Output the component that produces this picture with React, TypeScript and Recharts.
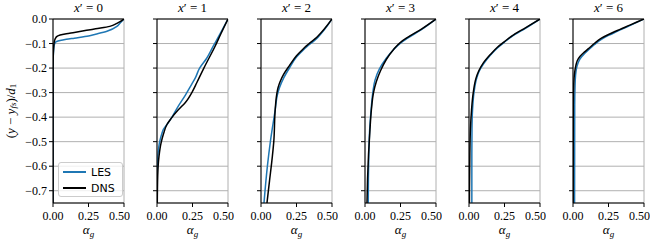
import { LineChart, Line, XAxis, YAxis, CartesianGrid, Legend, Label, ReferenceLine } from 'recharts'

// ─── Data ─────────────────────────────────────────────────────────────────
// each profile point is [alpha_g, (y - y_fs)/d1]
type Pt = [number, number]

const panels = ['0', '1', '2', '3', '4', '6']
const seriesNames = ['LES', 'DNS']
const xTicks = [0, 0.25, 0.5]
const yTicks = [0, -0.1, -0.2, -0.3, -0.4, -0.5, -0.6, -0.7]

const les0: Pt[] = [[0.5, 0], [0.47, -0.018], [0.45, -0.03], [0.38, -0.05], [0.3, -0.062], [0.25, -0.069], [0.15, -0.078], [0.094, -0.083], [0.05, -0.088], [0.026, -0.092], [0.015, -0.097], [0.009, -0.106], [0.004, -0.13], [0.001, -0.17], [0, -0.22], [0, -0.75]]
const dns0: Pt[] = [[0.5, 0], [0.45, -0.018], [0.4, -0.03], [0.3, -0.04], [0.25, -0.045], [0.15, -0.055], [0.094, -0.06], [0.05, -0.065], [0.026, -0.072], [0.018, -0.078], [0.012, -0.086], [0.007, -0.1], [0.004, -0.12], [0.001, -0.17], [0, -0.22], [0, -0.75]]

const les1: Pt[] = [[0.5, 0], [0.44, -0.065], [0.395, -0.112], [0.35, -0.16], [0.3, -0.2], [0.27, -0.24], [0.244, -0.266], [0.2, -0.31], [0.15, -0.355], [0.1, -0.405], [0.07, -0.43], [0.045, -0.45], [0.035, -0.466], [0.019, -0.5], [0.007, -0.55], [0.002, -0.6], [0, -0.63], [0, -0.75]]
const dns1: Pt[] = [[0.5, 0], [0.45, -0.06], [0.41, -0.11], [0.33, -0.2], [0.28, -0.26], [0.25, -0.295], [0.2, -0.34], [0.15, -0.37], [0.1, -0.405], [0.07, -0.43], [0.047, -0.466], [0.028, -0.507], [0.014, -0.56], [0.005, -0.64], [0.002, -0.75]]

const les2: Pt[] = [[0.5, 0], [0.4, -0.075], [0.3, -0.125], [0.25, -0.155], [0.2, -0.2], [0.16, -0.24], [0.13, -0.28], [0.115, -0.31], [0.1, -0.37], [0.066, -0.5], [0.045, -0.6], [0.021, -0.75]]
const dns2: Pt[] = [[0.5, 0], [0.4, -0.07], [0.3, -0.12], [0.25, -0.15], [0.2, -0.19], [0.16, -0.225], [0.135, -0.255], [0.12, -0.28], [0.11, -0.31], [0.1, -0.37], [0.09, -0.5], [0.08, -0.56], [0.06, -0.66], [0.042, -0.75]]

const les3: Pt[] = [[0.5, 0], [0.4, -0.042], [0.3, -0.078], [0.25, -0.098], [0.2, -0.125], [0.15, -0.16], [0.1, -0.205], [0.07, -0.25], [0.055, -0.3], [0.043, -0.37], [0.033, -0.45], [0.027, -0.55], [0.024, -0.65], [0.023, -0.75]]
const dns3: Pt[] = [[0.5, 0], [0.4, -0.04], [0.3, -0.075], [0.25, -0.095], [0.2, -0.125], [0.15, -0.165], [0.11, -0.21], [0.08, -0.255], [0.06, -0.3], [0.045, -0.37], [0.035, -0.45], [0.025, -0.55], [0.018, -0.65], [0.014, -0.75]]

const les4: Pt[] = [[0.5, 0], [0.4, -0.037], [0.3, -0.072], [0.25, -0.094], [0.2, -0.118], [0.15, -0.148], [0.1, -0.185], [0.07, -0.215], [0.05, -0.25], [0.035, -0.3], [0.025, -0.37], [0.021, -0.45], [0.02, -0.55], [0.02, -0.75]]
const dns4: Pt[] = [[0.5, 0], [0.4, -0.035], [0.3, -0.07], [0.25, -0.092], [0.2, -0.115], [0.15, -0.145], [0.1, -0.18], [0.07, -0.21], [0.05, -0.24], [0.03, -0.3], [0.018, -0.37], [0.01, -0.45], [0.006, -0.55], [0.003, -0.75]]

const les6: Pt[] = [[0.5, 0], [0.4, -0.027], [0.3, -0.053], [0.25, -0.067], [0.2, -0.083], [0.15, -0.105], [0.12, -0.12], [0.08, -0.142], [0.05, -0.162], [0.035, -0.18], [0.025, -0.2], [0.018, -0.23], [0.014, -0.28], [0.012, -0.35], [0.011, -0.75]]
const dns6: Pt[] = [[0.5, 0], [0.4, -0.025], [0.3, -0.05], [0.25, -0.063], [0.2, -0.078], [0.15, -0.1], [0.12, -0.115], [0.08, -0.135], [0.05, -0.152], [0.03, -0.17], [0.02, -0.19], [0.01, -0.225], [0.005, -0.27], [0.002, -0.35], [0.001, -0.75]]

const lesProfiles = [les0, les1, les2, les3, les4, les6]
const dnsProfiles = [dns0, dns1, dns2, dns3, dns4, dns6]

// ─── Styling ──────────────────────────────────────────────────────────────
const SERIF = 'Liberation Serif, DejaVu Serif, serif'
const SANS = 'DejaVu Sans, sans-serif'
const LES_COLOR = '#1f77b4'
const DNS_COLOR = '#000000'
const GRID = '#b0b0b0'

const CHART_W = 130
const CHART_H = 240
const PANEL_STEP = 104

const serifStyle = { fontFamily: SERIF }
const toPoints = (pts: Pt[]) => pts.map(([a, y]) => ({ a, y }))
const fmtY = (v: number) => (v === 0 ? '0.0' : '\u2212' + Math.abs(v).toFixed(1))

// panel title, drawn above the plot area of the bottom axis' viewBox
function renderTitle(n: string) {
  return (props: any) => {
    const vb = props.viewBox || {}
    return (
      <text x={vb.x + vb.width / 2} y={12} textAnchor="middle" style={serifStyle} fontSize={13} fill="#000">
        <tspan fontStyle="italic">x</tspan>
        <tspan>{'\u2032 = ' + n}</tspan>
      </text>
    )
  }
}

function renderXLabel(props: any) {
  const vb = props.viewBox || {}
  return (
    <text x={vb.x + vb.width / 2} y={vb.y + 31} textAnchor="middle" style={serifStyle} fontSize={13} fill="#000">
      <tspan fontStyle="italic">{'\u03b1'}</tspan>
      <tspan fontStyle="italic" fontSize={9} dy={3}>g</tspan>
    </text>
  )
}

function renderYLabel(props: any) {
  const vb = props.viewBox || {}
  const cx = vb.x - 3
  const cy = vb.y + vb.height / 2
  return (
    <text
      x={cx}
      y={cy}
      transform={`rotate(-90, ${cx}, ${cy})`}
      textAnchor="middle"
      dominantBaseline="central"
      style={serifStyle}
      fontSize={13}
      fill="#000"
    >
      <tspan>(</tspan>
      <tspan fontStyle="italic">y</tspan>
      <tspan>{' \u2212 '}</tspan>
      <tspan fontStyle="italic">y</tspan>
      <tspan fontStyle="italic" fontSize={9} dy={3}>fs</tspan>
      <tspan dy={-3}>)/</tspan>
      <tspan fontStyle="italic">d</tspan>
      <tspan fontSize={9} dy={3}>1</tspan>
    </text>
  )
}

function LegendBox({ payload }: any) {
  const items = [...(payload || [])].sort(
    (p: any, q: any) => seriesNames.indexOf(p.value) - seriesNames.indexOf(q.value),
  )
  return (
    <div
      style={{
        width: 65,
        height: 35,
        boxSizing: 'border-box',
        border: '1px solid #cccccc',
        borderRadius: 3,
        background: 'rgba(255,255,255,0.8)',
        fontFamily: SANS,
        fontSize: 11,
        color: '#000',
        paddingTop: 1,
      }}
    >
      {items.map((entry: any) => (
        <div key={entry.value} style={{ display: 'flex', alignItems: 'center', height: 16 }}>
          <span style={{ display: 'inline-block', width: 23, height: 2, background: entry.color, marginLeft: 4, marginRight: 5 }} />
          <span>{entry.value}</span>
        </div>
      ))}
    </div>
  )
}

function Panel({ idx }: { idx: number }) {
  const first = idx === 0
  const tickStyle = { fontSize: 12, fill: '#000', fontFamily: SERIF, style: serifStyle }
  return (
    <div style={{ position: 'absolute', left: idx * PANEL_STEP, top: 0 }}>
      <LineChart width={CHART_W} height={CHART_H} margin={{ top: 19, right: 6, left: 13, bottom: 0 }}>
        <CartesianGrid stroke={GRID} strokeWidth={1} />
        <XAxis
          type="number"
          dataKey="a"
          domain={[0, 0.5]}
          ticks={xTicks}
          allowDataOverflow
          height={37}
          tickSize={4}
          tickMargin={4}
          tickFormatter={(v: number) => v.toFixed(2)}
          tick={tickStyle}
          tickLine={{ stroke: '#000' }}
          axisLine={{ stroke: '#000' }}
        >
          <Label content={renderXLabel} />
          <Label content={renderTitle(panels[idx])} />
        </XAxis>
        <YAxis
          type="number"
          domain={[-0.75, 0]}
          ticks={yTicks}
          allowDataOverflow
          width={40}
          tickSize={4}
          tickMargin={2}
          tickFormatter={first ? fmtY : () => ''}
          tick={tickStyle}
          tickLine={{ stroke: '#000' }}
          axisLine={{ stroke: '#000' }}
        >
          {first && <Label content={renderYLabel} />}
        </YAxis>
        <YAxis
          yAxisId="r"
          orientation="right"
          type="number"
          domain={[-0.75, 0]}
          width={0}
          tick={false}
          tickLine={false}
          axisLine={{ stroke: '#000' }}
        />
        <Line
          data={toPoints(lesProfiles[idx])}
          dataKey="y"
          name="LES"
          type="monotoneY"
          stroke={LES_COLOR}
          strokeWidth={1.5}
          dot={false}
          isAnimationActive={false}
        />
        <Line
          data={toPoints(dnsProfiles[idx])}
          dataKey="y"
          name="DNS"
          type="monotoneY"
          stroke={DNS_COLOR}
          strokeWidth={1.5}
          dot={false}
          isAnimationActive={false}
        />
        <ReferenceLine y={0} stroke="#000" strokeWidth={1} />
        {first && (
          <Legend
            layout="vertical"
            align="center"
            verticalAlign="middle"
            wrapperStyle={{ left: 58, top: 162, width: 65, height: 35 }}
            content={LegendBox}
          />
        )}
      </LineChart>
    </div>
  )
}

export default function App() {
  return (
    <div
      style={{
        position: 'absolute',
        left: 0,
        top: 0,
        width: 656,
        height: 240,
        background: '#fff',
        fontFamily: SERIF,
      }}
    >
      {panels.map((_, i) => (
        <Panel key={i} idx={i} />
      ))}
    </div>
  )
}
